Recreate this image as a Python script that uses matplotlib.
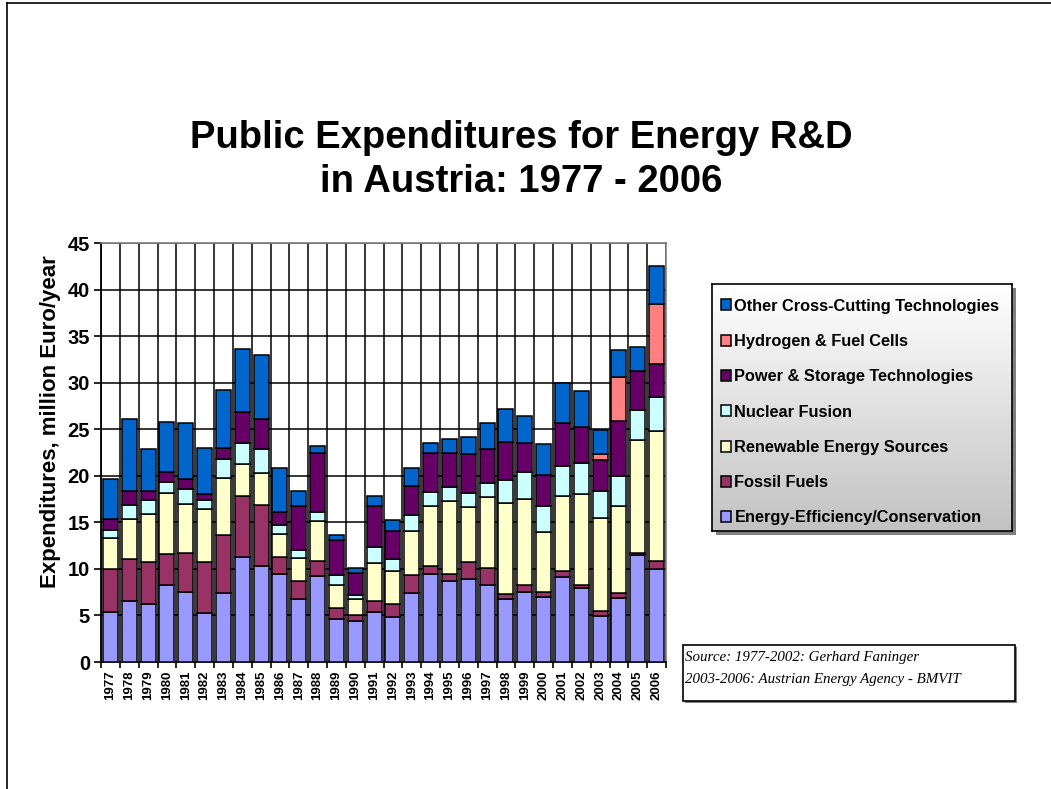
import numpy as np
import matplotlib.pyplot as plt
from matplotlib.lines import Line2D
from matplotlib.patches import Rectangle

plt.rcParams['font.family'] = ['Liberation Sans', 'DejaVu Sans']

years = [str(y) for y in range(1977, 2007)]

# million Euro / year, one value per year
efficiency = [5.4, 6.5, 6.2, 8.3, 7.5, 5.3, 7.4, 11.3, 10.3, 9.4, 6.8, 9.2, 4.6, 4.4, 5.4,
              4.8, 7.4, 9.4, 8.7, 8.9, 8.3, 6.8, 7.5, 7.0, 9.1, 7.9, 4.9, 6.9, 11.5, 10.0]
fossil = [4.6, 4.6, 4.5, 3.3, 4.2, 5.4, 6.2, 6.5, 6.6, 1.9, 1.9, 1.6, 1.2, 0.6, 1.2,
          1.4, 1.9, 0.9, 0.7, 1.8, 1.8, 0.5, 0.8, 0.5, 0.7, 0.4, 0.6, 0.5, 0.2, 0.8]
renewable = [3.3, 4.3, 5.2, 6.5, 5.3, 5.7, 6.2, 3.5, 3.4, 2.5, 2.5, 4.3, 2.5, 1.8, 4.0,
             3.6, 4.8, 6.5, 7.9, 6.0, 7.6, 9.8, 9.2, 6.5, 8.0, 9.7, 10.0, 9.4, 12.1, 14.0]
fusion = [0.9, 1.5, 1.5, 1.2, 1.6, 1.0, 2.0, 2.2, 2.6, 0.9, 0.8, 1.0, 1.0, 0.4, 1.7,
          1.3, 1.7, 1.5, 1.5, 1.5, 1.5, 2.4, 2.9, 2.8, 3.2, 3.4, 2.9, 3.2, 3.3, 3.7]
power = [1.2, 1.5, 1.0, 1.1, 1.1, 0.6, 1.2, 3.3, 3.2, 1.4, 4.8, 6.3, 3.8, 2.4, 4.5,
         3.0, 3.1, 4.2, 3.6, 4.1, 3.7, 4.1, 3.1, 3.3, 4.7, 3.8, 3.3, 5.9, 4.2, 3.5]
hydrogen = [0, 0, 0, 0, 0, 0, 0, 0, 0, 0, 0, 0, 0, 0, 0,
            0, 0, 0, 0, 0, 0, 0, 0, 0, 0, 0, 0.6, 4.7, 0, 6.5]
other = [4.3, 7.7, 4.5, 5.4, 6.0, 5.0, 6.2, 6.8, 6.9, 4.7, 1.6, 0.8, 0.5, 0.5, 1.0,
         1.2, 1.9, 1.0, 1.5, 1.9, 2.8, 3.6, 2.9, 3.3, 4.3, 3.9, 2.6, 2.9, 2.5, 4.0]

series = [
    ('Energy-Efficiency/Conservation', efficiency, '#9999FF'),
    ('Fossil Fuels', fossil, '#993366'),
    ('Renewable Energy Sources', renewable, '#FFFFCC'),
    ('Nuclear Fusion', fusion, '#CCFFFF'),
    ('Power & Storage Technologies', power, '#660066'),
    ('Hydrogen & Fuel Cells', hydrogen, '#FF8080'),
    ('Other Cross-Cutting Technologies', other, '#0066CC'),
]

W, H = 1051, 789
fig = plt.figure(figsize=(W / 100, H / 100), dpi=100)

# slide border (left and top only visible)
fig.add_artist(Line2D([7 / W, 7 / W], [0, 1 - 3 / H], color='black', lw=1.2))
fig.add_artist(Line2D([7 / W, 1], [1 - 3 / H, 1 - 3 / H], color='black', lw=1.2))

fig.text(521 / W, 1 - 160 / H, 'Public Expenditures for Energy R&D\nin Austria: 1977 - 2006',
         ha='center', va='center', fontsize=27.5, fontweight='bold', linespacing=1.32)

ax = fig.add_axes([101 / W, 1 - 662 / H, 565 / W, 419 / H])
x = np.arange(len(years))
bottom = np.zeros(len(years))
handles = []
for name, vals, col in series:
    v = np.array(vals, dtype=float)
    b = ax.bar(x, v, 0.8, bottom=bottom, color=col, edgecolor='black', linewidth=1.1,
               label=name, zorder=3)
    handles.append(b)
    bottom += v

ax.set_xlim(-0.5, len(years) - 0.5)
ax.set_ylim(0, 45)
ax.set_yticks(range(0, 46, 5))
ax.set_yticklabels([str(t) for t in range(0, 46, 5)], fontsize=14.5, fontweight='bold')
ax.set_xticks(x)
ax.set_xticklabels(years, rotation=90, fontsize=9.5, fontweight='bold')
ax.tick_params(axis='x', which='major', length=0, pad=6)
ax.set_xticks(np.arange(-0.5, len(years)), minor=True)
ax.tick_params(axis='x', which='minor', length=4, width=1.2, direction='out')
ax.tick_params(axis='y', length=5, width=1.2, direction='out', pad=3)
ax.grid(axis='y', which='major', color='black', lw=1.1, zorder=0)
ax.grid(axis='x', which='minor', color='black', lw=1.1, zorder=0)
ax.set_axisbelow(True)
for s in ('top', 'right'):
    ax.spines[s].set_color('#808080')
    ax.spines[s].set_linewidth(1.2)
for s in ('left', 'bottom'):
    ax.spines[s].set_linewidth(1.3)
ax.set_ylabel('Expenditures, million Euro/year', fontsize=16, fontweight='bold')
ax.yaxis.set_label_coords(-0.071, 0.573)

# legend background with gradient and shadow
lx0, ly0, lx1, ly1 = 712, 284, 1012, 531
shadow = fig.add_axes([(lx0 + 4) / W, 1 - (ly1 + 4) / H, (lx1 - lx0) / W, (ly1 - ly0) / H])
shadow.set_facecolor('#808080')
shadow.set_xticks([]); shadow.set_yticks([])
for sp in shadow.spines.values():
    sp.set_visible(False)
lax = fig.add_axes([lx0 / W, 1 - ly1 / H, (lx1 - lx0) / W, (ly1 - ly0) / H])
grad = np.linspace(1.0, 0.76, 256).reshape(-1, 1)
lax.imshow(np.dstack([grad, grad, grad]), aspect='auto', extent=[0, 1, 0, 1])
lax.set_xticks([]); lax.set_yticks([])
for sp in lax.spines.values():
    sp.set_color('black')
    sp.set_linewidth(1.2)

leg = fig.legend(handles[::-1], [s[0] for s in series][::-1], loc='upper left',
                 bbox_to_anchor=(714 / W, 1 - 292 / H), frameon=False,
                 prop={'weight': 'bold', 'size': 11.8}, handlelength=0.65,
                 handleheight=0.65, handletextpad=0.2, labelspacing=1.24,
                 borderaxespad=0)

# source box
sx0, sy0, sx1, sy1 = 683, 645, 1015, 701
fig.add_artist(Rectangle((sx0 / W + 2 / W, 1 - (sy1 + 2) / H), (sx1 - sx0) / W, (sy1 - sy0) / H,
                         transform=fig.transFigure, facecolor='#808080', edgecolor='none'))
fig.add_artist(Rectangle((sx0 / W, 1 - sy1 / H), (sx1 - sx0) / W, (sy1 - sy0) / H,
                         transform=fig.transFigure, facecolor='white', edgecolor='black', lw=1.2))
fig.text(685 / W, 1 - 657 / H, 'Source: 1977-2002: Gerhard Faninger', fontsize=10.8,
         style='italic', family='Liberation Serif', va='center')
fig.text(685 / W, 1 - 680 / H, '2003-2006: Austrian Energy Agency - BMVIT', fontsize=10.8,
         style='italic', family='Liberation Serif', va='center')

fig.savefig('out.png', dpi=100)
